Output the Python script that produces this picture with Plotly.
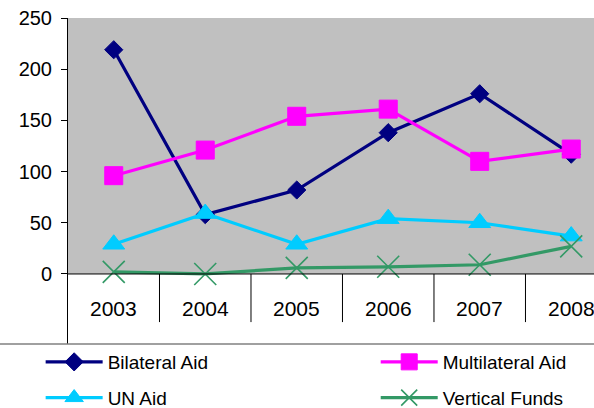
import plotly.graph_objects as go

years = ["2003", "2004", "2005", "2006", "2007", "2008"]
bilateral = [219, 58, 82, 138, 176, 117]
multilateral = [96, 121, 154, 161, 110, 122]
un_aid = [29, 59, 29, 54, 50, 37]
vertical = [2, 0, 6, 7, 9, 27]
y_ticks = [0, 50, 100, 150, 200, 250]

FONT = "Liberation Sans, Arial, sans-serif"
xs = list(range(len(years)))

fig = go.Figure()
series = [
    ("Bilateral Aid", bilateral, "#000080", "diamond", 14, 1, "legend"),
    ("Multilateral Aid", multilateral, "#FF00FF", "square", 18, 1, "legend2"),
    ("UN Aid", un_aid, "#00CCFF", "triangle-up", 19, 1, "legend"),
    ("Vertical Funds", vertical, "#339966", "x-thin", 22, 1.6, "legend2"),
]
for name, vals, col, sym, size, mlw, leg in series:
    fig.add_trace(go.Scatter(
        x=xs, y=vals, name=name, mode="lines+markers", legend=leg, legendgroup=name,
        line=dict(color=col, width=3.2),
        marker=dict(symbol=sym, size=size, color=col,
                    line=dict(color=col, width=mlw)),
    ))

shapes = []
shapes.append(dict(type="rect", xref="x", yref="y", x0=-0.5, x1=5.5, y0=0, y1=250,
                   fillcolor="#C0C0C0", line=dict(width=0), layer="below"))
shapes.append(dict(type="line", xref="x", yref="y", x0=-0.5, x1=5.5, y0=0, y1=0,
                   line=dict(color="#000000", width=1)))
for k in range(len(years)):
    shapes.append(dict(type="line", xref="x", yref="y", x0=k + 0.5, x1=k + 0.5,
                       y0=0, y1=-47, line=dict(color="#000000", width=1)))
shapes.append(dict(type="line", xref="paper", yref="paper", x0=-68 / 526, x1=1.05,
                   y0=0, y1=0, line=dict(color="#808080", width=1.5)))

annotations = [dict(x=i, y=-34, xref="x", yref="y", text=t, showarrow=False,
                    font=dict(family=FONT, size=21, color="#000000"))
               for i, t in zip(xs, years)]

leg_common = dict(orientation="v", xanchor="left", yanchor="top", y=0.003,
                  itemwidth=57, tracegroupgap=8,
                  font=dict(family=FONT, size=19, color="#000000"),
                  bgcolor="rgba(0,0,0,0)")

fig.update_layout(
    width=594, height=408,
    margin=dict(l=68, r=0, t=18, b=64, autoexpand=False),
    paper_bgcolor="white", plot_bgcolor="white",
    font=dict(family=FONT, size=20, color="#000000"),
    shapes=shapes, annotations=annotations,
    showlegend=True,
    legend=dict(x=-0.052, **leg_common),
    legend2=dict(x=0.585, **leg_common),
    xaxis=dict(range=[-0.5, 5.249], showticklabels=False, showgrid=False,
               zeroline=False, showline=False, ticks=""),
    yaxis=dict(range=[-68.4, 250], tickvals=y_ticks, ticks="outside", ticklen=6,
               tickcolor="#000000", showline=True, linecolor="#000000", linewidth=1,
               showgrid=False, zeroline=False, ticklabelstandoff=5,
               tickfont=dict(family=FONT, size=20, color="#000000")),
)

fig.write_html("out.html", config={"displayModeBar": False},
               post_script="document.body.style.margin='0';")
